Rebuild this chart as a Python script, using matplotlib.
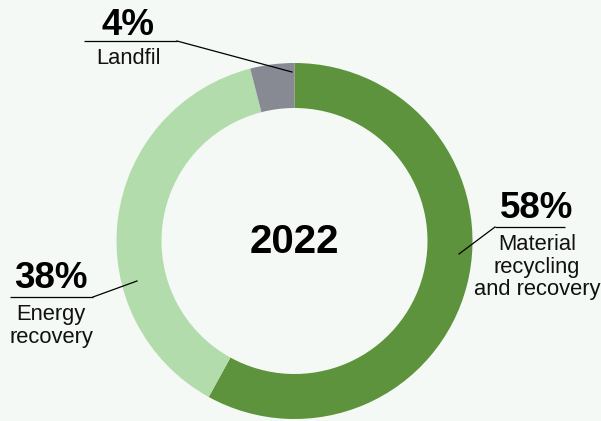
import matplotlib
matplotlib.use("Agg")
import matplotlib.pyplot as plt

# Waste treatment shares, 2022
categories = ["Material\nrecycling\nand recovery", "Energy\nrecovery", "Landfil"]
shares = [58, 38, 4]
year_label = "2022"

colors = ["#5d933c", "#b3dcac", "#878a93"]
background = "#f4f9f5"

W, H = 601, 421
fig = plt.figure(figsize=(W / 100, H / 100), dpi=100, facecolor=background)
ax = fig.add_axes([0, 0, 1, 1])
ax.set_facecolor(background)

# ring geometry in pixel units (y measured from the bottom)
cx, cy = 294.5, H - 241
r_out, ring = 178, 45

ax.pie(shares, colors=colors, startangle=90, counterclock=False,
       center=(cx, cy), radius=r_out,
       wedgeprops=dict(width=ring, linewidth=0))
ax.set_xlim(0, W)
ax.set_ylim(0, H)
ax.set_aspect("equal")
ax.axis("off")

font = "Liberation Sans"

ax.text(cx, cy - 1, year_label, ha="center", va="center", fontsize=29,
        fontweight="bold", family=font, color="#000000")

# label layout: text centre x, percent baseline y, rule y / extent, leader end
layout = [
    dict(x=537, pct_y=218, rule_y=227, x0=495, x1=565, end=(459, 254), knee=495),
    dict(x=51, pct_y=288, rule_y=297, x0=10, x1=93, end=(137, 281), knee=93),
    dict(x=128, pct_y=35, rule_y=41, x0=84, x1=177, end=(292, 72), knee=177),
]

for name, val, lay in zip(categories, shares, layout):
    ax.text(lay["x"], H - lay["pct_y"], f"{val}%", ha="center", va="baseline",
            fontsize=26.5, fontweight="bold", family=font, color="#000000")
    ax.plot([lay["x0"], lay["x1"]], [H - lay["rule_y"]] * 2,
            color="#000000", lw=0.9, solid_capstyle="butt")
    ax.plot([lay["knee"], lay["end"][0]], [H - lay["rule_y"], H - lay["end"][1]],
            color="#000000", lw=0.9)
    ax.text(lay["x"], H - lay["rule_y"] - 7, name, ha="center", va="top",
            fontsize=15.8, family=font, color="#111111", linespacing=1.1)

fig.savefig("out.png", dpi=100, facecolor=background)
